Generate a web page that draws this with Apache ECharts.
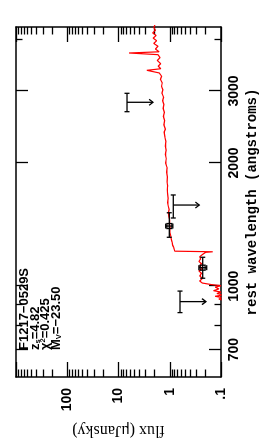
<!DOCTYPE html>
<html>
<head>
<meta charset="utf-8">
<script src="https://cdn.jsdelivr.net/npm/echarts@6.0.0/dist/echarts.min.js"></script>
<style>
html,body{margin:0;padding:0;background:#fff;overflow:hidden;width:277px;height:443px;}
#wrap{position:absolute;left:0;top:0;width:443px;height:277px;transform-origin:0 0;transform:translate(0px,443px) rotate(-90deg);}
</style>
</head>
<body>
<div id="wrap"></div>
<script>
// ---- data ----
const specWave = [920,930,938,945,952,960,968,975,985,995,1003,1010,1018,1030,1045,1060,1075,1090,1105,1120,1135,1150,1165,1180,1195,1210,1214,1218,1230,1245,1260,1280,1300,1330,1360,1390,1420,1450,1480,1510,1540,1570,1600,1640,1680,1720,1760,1800,1850,1900,1950,2000,2050,2100,2150,2200,2260,2320,2380,2420,2480,2540,2600,2660,2720,2780,2840,2900,2960,3020,3080,3140,3200,3260,3320,3370,3400,3450,3500,3560,3620,3680,3715,3740,3800,3860,3920,3980,4040,4100,4160,4220,4290,4350];
const specFlux = [0.08,0.11,0.095,0.13,0.09,0.12,0.10,0.14,0.11,0.13,0.10,0.16,0.23,0.26,0.23,0.26,0.24,0.27,0.23,0.26,0.24,0.27,0.25,0.26,0.23,0.2,0.145,0.8,0.86,0.84,0.88,0.9,0.93,0.96,1.0,0.98,1.02,1.0,1.04,1.06,1.03,1.07,1.1,1.08,1.1,1.12,1.1,1.13,1.11,1.15,1.13,1.2,1.17,1.22,1.18,1.22,1.19,1.25,1.29,1.22,1.3,1.26,1.33,1.27,1.35,1.3,1.38,1.32,1.42,1.36,1.45,1.4,1.52,1.44,1.6,2.8,1.5,1.68,1.5,1.75,1.55,1.7,6.2,1.62,1.9,1.7,2.05,1.8,2.1,1.85,2.15,1.9,2.05,1.95];

const photWave   = [917, 1110, 1403, 1579, 2815];
const photWaveLo = [862, 1046, 1317, 1468, 2670];
const photWaveHi = [973, 1177, 1512, 1671, 2961];
const photFlux   = [0.631, 0.2275, 1.02, 0.853, 6.82];
const photFluxLo = [0.631, 0.19, 0.87, 0.853, 6.82];
const photFluxHi = [0.631, 0.27, 1.2, 0.853, 6.82];
const photLimit  = [1, 0, 0, 1, 1];

const waveMajorTicks = [700, 1000, 2000, 3000];
const waveMinorTicks = [800, 900, 4000];
const waveLabels = [700, 1000, 2000, 3000];
const fluxMajorTicks = [0.1, 1, 10, 100, 1000];
const fluxMinorTicks = [0.2,0.3,0.4,0.5,0.6,0.7,0.8,0.9,2,3,4,5,6,7,8,9,20,30,40,50,60,70,80,90,200,300,400,500,600,700,800,900];
const fluxLabels = [0.1, 1, 10, 100];

const waveMin = 600, waveMax = 4300, fluxMin = 0.1, fluxMax = 1000;

// ---- chart ----
const chart = echarts.init(document.getElementById('wrap'), null, {renderer: 'canvas'});
const lineAx = {show: true, lineStyle: {color: '#000', width: 1.5}};
const noLine = {show: false};
const tickFont = {color: '#000', fontFamily: 'Liberation Sans', fontWeight: 'bold', fontSize: 14};

function xAx(pos, ticks, len, axLine, labels) {
  return {
    type: 'log', min: waveMin, max: waveMax, position: pos,
    axisLine: axLine ? lineAx : noLine,
    axisTick: {show: true, inside: true, length: len, customValues: ticks, lineStyle: {color: '#000', width: 1.3}},
    axisLabel: labels ? Object.assign({show: true, margin: 6, customValues: labels,
      formatter: v => String(Math.round(v))}, tickFont) : {show: false},
    splitLine: {show: false}, minorTick: {show: false}
  };
}
function yAx(pos, ticks, len, axLine, labels) {
  return {
    type: 'log', min: fluxMin, max: fluxMax, position: pos,
    axisLine: axLine ? lineAx : noLine,
    axisTick: {show: true, inside: true, length: len, customValues: ticks, lineStyle: {color: '#000', width: 1.3}},
    axisLabel: labels ? Object.assign({show: true, margin: 11, customValues: labels,
      formatter: v => (Math.abs(v - 0.1) < 1e-9 ? '.1' : String(Math.round(v)))}, tickFont) : {show: false},
    splitLine: {show: false}, minorTick: {show: false}
  };
}

const xAxes = [
  xAx('bottom', waveMajorTicks, 12, true, waveLabels),
  xAx('bottom', waveMinorTicks, 6.5, false, null),
  xAx('top', waveMajorTicks, 12, true, null),
  xAx('top', waveMinorTicks, 6.5, false, null)
];
Object.assign(xAxes[0], {name: 'rest wavelength (angstroms)', nameLocation: 'middle', nameGap: 20,
  nameTextStyle: {color: '#000', fontFamily: 'Liberation Mono', fontWeight: 'bold', fontSize: 14}});
const yAxes = [
  yAx('left', fluxMajorTicks, 15, true, fluxLabels),
  yAx('left', fluxMinorTicks, 7.5, false, null),
  yAx('right', fluxMajorTicks, 15, true, null),
  yAx('right', fluxMinorTicks, 7.5, false, null)
];
Object.assign(yAxes[0], {name: 'flux (μJansky)', nameLocation: 'middle', nameGap: 45,
  nameTextStyle: {color: '#000', fontFamily: 'Liberation Serif', fontSize: 16}});

const specData = specWave.map((w, i) => [w, specFlux[i]]);
const photData = photWave.map((w, i) => [w, photFlux[i], photWaveLo[i], photWaveHi[i], photFluxLo[i], photFluxHi[i], photLimit[i]]);

const stroke = {stroke: '#000', lineWidth: 1.3, fill: null};
function seg(x1, y1, x2, y2) {
  return {type: 'line', shape: {x1, y1, x2, y2}, style: stroke};
}

chart.setOption({
  animation: false,
  backgroundColor: '#fff',
  grid: {left: 66, right: 27, top: 16, bottom: 56, containLabel: false, outerBoundsMode: 'none'},
  xAxis: xAxes,
  yAxis: yAxes,
  graphic: [{
    type: 'text', left: 93, top: 18, z: 10,
    style: {
      text: '{n|F1217−0529S}\n{n|z}{s|s}{n|=4.82}\n{n|χ}{p|2}{n|=0.425}\n{n|M}{s|V}{n|=−23.50}',
      rich: {
        n: {fontFamily: 'Liberation Sans', fontWeight: 'bold', fontSize: 13, lineHeight: 10.5, fill: '#000'},
        s: {fontFamily: 'Liberation Sans', fontWeight: 'bold', fontSize: 7.5, lineHeight: 10.5, padding: [6, 0, 0, 0], fill: '#000'},
        p: {fontFamily: 'Liberation Sans', fontWeight: 'bold', fontSize: 7.5, lineHeight: 10.5, padding: [0, 0, 5, 0], fill: '#000'}
      }
    }
  }],
  series: [
    {
      type: 'line', data: specData, xAxisIndex: 0, yAxisIndex: 0,
      showSymbol: false, symbol: 'none', clip: true,
      lineStyle: {color: '#ff0000', width: 1.2}
    },
    {
      type: 'custom', data: photData, xAxisIndex: 0, yAxisIndex: 0, clip: false, z: 5,
      renderItem: function (params, api) {
        const lc = api.value(0), f = api.value(1), llo = api.value(2), lhi = api.value(3);
        const flo = api.value(4), fhi = api.value(5), lim = api.value(6);
        const pC = api.coord([lc, f]);
        const pL = api.coord([llo, f]);
        const pH = api.coord([lhi, f]);
        const cap = 2.5;
        const ch = [
          seg(pL[0], pC[1], pH[0], pC[1]),
          seg(pL[0], pC[1] - cap, pL[0], pC[1] + cap),
          seg(pH[0], pC[1] - cap, pH[0], pC[1] + cap)
        ];
        if (lim) {
          const len = 26;
          const tip = pC[1] + len;
          ch.push(seg(pC[0], pC[1], pC[0], tip));
          ch.push({type: 'polyline', shape: {points: [[pC[0] - 3, tip - 4], [pC[0], tip], [pC[0] + 3, tip - 4]]}, style: stroke});
        } else {
          const pLo = api.coord([lc, flo]);
          const pHi = api.coord([lc, fhi]);
          ch.push(seg(pC[0], pLo[1], pC[0], pHi[1]));
          ch.push(seg(pC[0] - cap, pLo[1], pC[0] + cap, pLo[1]));
          ch.push(seg(pC[0] - cap, pHi[1], pC[0] + cap, pHi[1]));
          ch.push({type: 'rect', shape: {x: pC[0] - 2.5, y: pC[1] - 2.5, width: 5, height: 5}, style: stroke});
        }
        return {type: 'group', children: ch};
      }
    }
  ]
});
</script>
</body>
</html>
